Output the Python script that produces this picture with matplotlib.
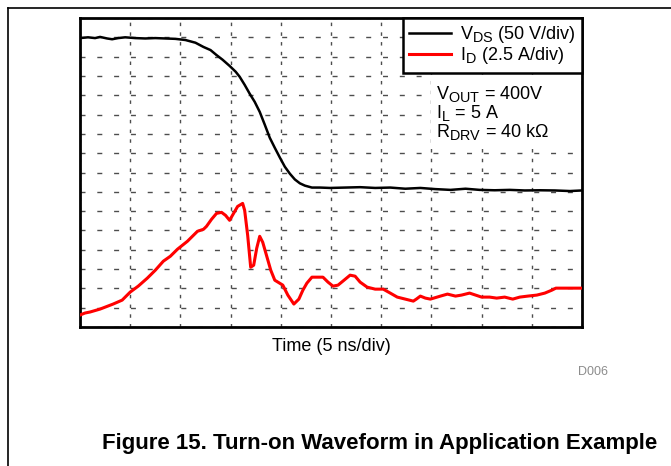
import numpy as np
import matplotlib
matplotlib.use("Agg")
import matplotlib.pyplot as plt
from matplotlib.lines import Line2D
from matplotlib.patches import Rectangle
import matplotlib._mathtext as mt

plt.rcParams['font.family'] = ['Liberation Sans', 'DejaVu Sans']
plt.rcParams['mathtext.fontset'] = 'custom'
plt.rcParams['mathtext.rm'] = 'Liberation Sans'
plt.rcParams['mathtext.it'] = 'Liberation Sans:italic'
mt.SHRINK_FACTOR = 0.8  # subscripts a bit larger, like the original

# V_DS trace: time (ns), volts
t_vds = [0, 0.8, 1.5, 2.0, 2.7, 3.2, 3.8, 4.5, 5.5, 6.5, 7.5, 8.5, 9.5, 10.5,
         11.5, 12.3, 13.0, 13.6, 14.2, 14.9, 15.5, 15.9, 16.4, 16.9, 17.4,
         17.9, 18.4, 18.9, 19.4, 19.9, 20.4, 20.9, 21.4, 21.9, 22.4, 23.1,
         23.9, 24.9, 26.4, 27.9, 29.4, 30.9, 32.4, 33.9, 35.4, 36.9, 38.4,
         39.8, 41.3, 42.8, 44.3, 45.8, 47.3, 48.8, 50.0]
vds = [398, 400, 398, 401, 397, 395, 398, 400, 398, 397, 398, 397, 396, 393,
       386, 375, 367, 354, 342, 326, 311, 298, 277, 254, 233,
       207, 174, 140, 114, 89, 65, 47, 32, 22, 16, 11,
       11, 10, 11, 12, 10, 11, 8, 10, 7, 5, 8,
       5, 4, 5, 3.5, 4, 3.5, 2, 3.5]

# I_D trace: time (ns), amps
t_id = [0, 0.5, 1.0, 2.0, 3.3, 4.2, 5.0, 5.8, 6.7, 7.5, 8.3, 9.0, 9.7, 10.7,
        11.7, 12.3, 12.6, 13.1, 13.6, 14.1, 14.5, 14.9, 15.3, 15.7, 16.2,
        16.4, 16.7, 17.0, 17.3, 17.6, 17.9, 18.2, 18.6, 19.0, 19.4, 20.2,
        20.7, 21.3, 21.8, 22.2, 22.6, 23.1, 23.7, 24.2, 24.7, 25.2, 25.7,
        26.3, 26.9, 27.4, 27.9, 28.6, 29.4, 30.2, 30.9, 31.6, 32.4, 33.2,
        33.5, 33.9, 34.4, 34.9, 35.9, 36.6, 37.4, 38.0, 38.8, 39.4, 40.0,
        40.8, 41.5, 42.3, 43.1, 43.8, 44.6, 45.5, 46.3, 47.0, 47.4, 48.3, 50.0]
i_d = [1.55, 1.81, 1.94, 2.32, 2.97, 3.48, 4.52, 5.29, 6.32, 7.35, 8.52, 9.16,
       10.06, 11.10, 12.39, 12.65, 13.03, 13.94, 14.71, 14.84, 14.45, 13.81,
       14.71, 15.61, 16.0, 15.10, 11.87, 7.74, 8.0, 10.19, 11.74, 10.97, 9.16,
       7.35, 6.06, 5.42, 4.13, 2.97, 3.61, 4.77, 5.68, 6.45, 6.45, 6.45, 5.81,
       5.29, 5.42, 6.06, 6.71, 6.58, 5.81, 5.16, 4.90, 4.90, 4.39, 3.87, 3.61,
       3.35, 3.61, 4.0, 3.74, 3.61, 4.0, 4.26, 4.0, 4.13, 4.39, 4.13, 3.87,
       3.87, 3.74, 3.87, 3.61, 3.87, 4.0, 4.13, 4.39, 4.77, 5.03, 5.03, 5.03]

legend_labels = [r'V$_{\rm DS}$ (50 V/div)', r'I$_{\rm D}$ (2.5 A/div)']
conditions = [r'V$_{\rm OUT}$ = 400V', r'I$_{\rm L}$ = 5 A', r'R$_{\rm DRV}$ = 40 k$\Omega$']

ns_per_div = 5
v_per_div = 50
a_per_div = 2.5
v_zero_div = 7

fig = plt.figure(figsize=(6.71, 4.66), dpi=100)
ax = fig.add_axes([80 / 671, 1 - 327 / 466, 502 / 671, 309 / 466])

x_v = np.array(t_vds) / ns_per_div
y_v = v_zero_div + np.array(vds) / v_per_div
x_i = np.array(t_id) / ns_per_div
y_i = np.array(i_d) / a_per_div

ax.plot(x_v, y_v, color='black', lw=1.8, label=legend_labels[0], zorder=3)
ax.plot(x_i, y_i, color='red', lw=2.2, label=legend_labels[1], zorder=3)

ax.set_xlim(0, 10)
ax.set_ylim(0, 16)
ax.set_xticks(np.arange(0, 11, 1))
ax.set_yticks(np.arange(0, 17, 1))
ax.tick_params(length=0, labelbottom=False, labelleft=False)
ax.grid(True, color='0.3', lw=1.0, linestyle=(0, (3.6, 8.5)))
ax.xaxis.grid(True, linestyle=(0, (2.5, 4.5)))
for s in ax.spines.values():
    s.set_linewidth(2.0)

leg = ax.legend(loc='upper right', frameon=True, fancybox=False, fontsize=13,
                borderaxespad=0, handlelength=2.3, handletextpad=0.5,
                borderpad=0.35, labelspacing=0.0)
leg.get_frame().set_edgecolor('black')
leg.get_frame().set_linewidth(1.8)
leg.get_frame().set_alpha(1)

# white area behind the test conditions
ax.add_patch(Rectangle((0.70, 0.59), 0.295, 0.225, transform=ax.transAxes,
                       facecolor='white', edgecolor='none', zorder=2))
ax.text(0.71, 0.785, '\n'.join(conditions), transform=ax.transAxes,
        fontsize=13, va='top', ha='left', linespacing=0.92, zorder=4)

ax.set_xlabel('Time (5 ns/div)', fontsize=13, labelpad=8)

fig.text(593 / 671, 1 - 372 / 466, 'D006', color='0.55', fontsize=9,
         ha='center', va='center')
fig.text(380 / 671, 1 - 443 / 466,
         'Figure 15. Turn-on Waveform in Application Example',
         fontsize=16, fontweight='bold', ha='center', va='center')

# page border
fig.add_artist(Line2D([8 / 671, 1], [1 - 8 / 466, 1 - 8 / 466],
                      color='black', lw=1.2, transform=fig.transFigure))
fig.add_artist(Line2D([8 / 671, 8 / 671], [0, 1 - 8 / 466],
                      color='black', lw=1.2, transform=fig.transFigure))

fig.savefig('out.png', dpi=100)
